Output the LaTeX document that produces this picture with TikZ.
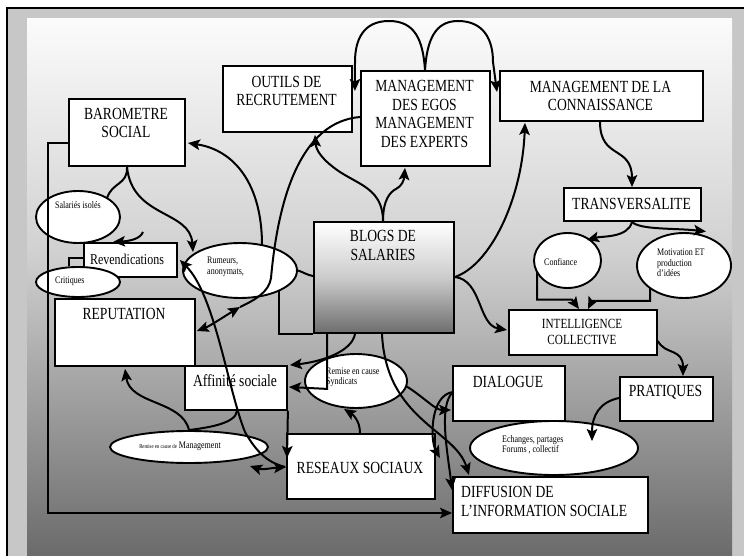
\documentclass[tikz,border=0pt]{standalone}
\usepackage{fontspec}
\setmainfont{Liberation Serif}
\newfontfamily\cond[FakeStretch=0.8]{Liberation Serif}
\usetikzlibrary{shapes.geometric,arrows.meta,calc}
\definecolor{bandgray}{gray}{0.78}
\definecolor{bgtop}{gray}{0.985}
\definecolor{bgmid}{gray}{0.82}
\definecolor{bgbot}{gray}{0.42}
\definecolor{blogbot}{gray}{0.43}
\definecolor{blogmid}{gray}{0.80}
\begin{document}
\begin{tikzpicture}[x=1pt,y=-1pt,
  box/.style={draw=black, line width=1.9pt, fill=white, rectangle, inner sep=0pt, anchor=north west},
  oval/.style={draw=black, line width=1.9pt, fill=white, ellipse, inner sep=0pt},
  big/.style={inner sep=0pt, align=center, font=\cond\fontsize{17}{18.5}\selectfont},
  midtxt/.style={inner sep=0pt, align=center, font=\cond\fontsize{14}{16}\selectfont},
  small/.style={inner sep=0pt, align=left, anchor=west, font=\cond\fontsize{10}{10.5}\selectfont},
  link/.style={line width=2pt, draw=black},
  arr/.style={link, -{Stealth[length=12pt,width=10.5pt,inset=2.5pt]}},
  rarr/.style={link, {Stealth[length=12pt,width=10.5pt,inset=2.5pt]}-},
  darr/.style={link, {Stealth[length=12pt,width=10.5pt,inset=2.5pt]}-{Stealth[length=12pt,width=10.5pt,inset=2.5pt]}}
]
\useasboundingbox (0,0) rectangle (744,556);
% background
\fill[white] (0,0) rectangle (744,556);
\fill[bandgray] (7,8) rectangle (744,556);
\shade[top color=bgtop, bottom color=bgmid] (27,19) rectangle (732,250.5);
\shade[top color=bgmid, bottom color=bgbot] (27,250) rectangle (732,556);
\draw[line width=2pt] (7,556) -- (7,8) -- (744,8);

% boxes
\node[box, minimum width=129, minimum height=66] (outils) at (222,65) {};
\node[box, minimum width=129, minimum height=95] (egos) at (360,70) {};
\node[box, minimum width=203, minimum height=50] (conn) at (499,70) {};
\node[box, minimum width=116, minimum height=67] (barom) at (68,98) {};
\node[box, minimum width=137, minimum height=33] (transv) at (563,187) {};
\node[draw=black, line width=1.9pt, rectangle, inner sep=0pt, anchor=north west,
      top color=white, bottom color=blogbot, middle color=blogmid,
      minimum width=140, minimum height=111] (blogs) at (313,221) {};
\node[box, minimum width=93, minimum height=34] (rev) at (83,242) {};
\node[box, minimum width=140, minimum height=67] (reput) at (54,298) {};
\node[box, minimum width=102, minimum height=44] (affin) at (184,365) {};
\node[box, minimum width=148, minimum height=65] (reseaux) at (286,433) {};
\node[box, minimum width=112, minimum height=55] (dialog) at (452,365) {};
\node[box, minimum width=148, minimum height=45] (intel) at (508,309) {};
\node[box, minimum width=93, minimum height=44] (prat) at (619,376) {};
\node[box, minimum width=195, minimum height=56] (diff) at (452,476) {};

% ellipses
\node[oval, minimum width=84, minimum height=52] (salaries) at (78,217) {};
\node[oval, minimum width=84, minimum height=30] (critiques) at (78,282) {};
\node[oval, minimum width=114, minimum height=55] (rumeurs) at (240,270.5) {};
\node[oval, minimum width=102, minimum height=54] (syndicats) at (356,381) {};
\node[oval, minimum width=158, minimum height=32] (mgmtell) at (189,447) {};
\node[oval, minimum width=67, minimum height=55] (confiance) at (567.5,260.5) {};
\node[oval, minimum width=94, minimum height=65] (motiv) at (684,265.5) {};
\node[oval, minimum width=168, minimum height=54] (echanges) at (554,448) {};

% texts
\node[big] (t-outils) at (286.5,91) {OUTILS DE\\RECRUTEMENT};
\node[big] (t-egos) at (424.5,114) {MANAGEMENT\\DES EGOS\\MANAGEMENT\\DES EXPERTS};
\node[big] (t-conn) at (600.5,96) {MANAGEMENT DE LA\\CONNAISSANCE};
\node[big] (t-barom) at (126,123) {BAROMETRE\\SOCIAL};
\node[big] (t-transv) at (631.5,204) {TRANSVERSALITE};
\node[big] (t-blogs) at (383,245.5) {BLOGS DE\\SALARIES};
\node[inner sep=0pt, font=\cond\fontsize{15}{17}\selectfont] (t-rev) at (127,259) {Revendications};
\node[big] (t-reput) at (124,314) {REPUTATION};
\node[big] (t-affin) at (235,381) {Affinité sociale};
\node[big] (t-reseaux) at (360,468) {RESEAUX SOCIAUX};
\node[big] (t-dialog) at (508,382) {DIALOGUE};
\node[midtxt] (t-intel) at (582,332) {INTELLIGENCE\\COLLECTIVE};
\node[big] (t-prat) at (665.5,392) {PRATIQUES};
\node[big, align=left, anchor=west] (t-diff) at (461,501.5) {DIFFUSION DE\\L’INFORMATION SOCIALE};

\node[small] (t-salaries) at (55,205) {Salariés isolés};
\node[small] (t-critiques) at (55,281) {Critiques};
\node[small] (t-rumeurs) at (207,267) {Rumeurs,\\anonymats,};
\node[small] (t-syndicats) at (326,377.5) {Remise en cause\\Syndicats};
\node[inner sep=0pt, font=\cond\fontsize{10}{10.5}\selectfont] (t-mgmt) at (180,446) {{\fontsize{6}{6}\selectfont Remise en cause de} Management};
\node[small] (t-confiance) at (544,262) {Confiance};
\node[small] (t-motiv) at (657,263) {Motivation ET\\production\\d’idées};
\node[small] (t-echanges) at (502,445) {Echanges, partages\\Forums , collectif};

% free ends
\coordinate (revsrc) at (143,232);
\coordinate (echtip) at (592,441);
\coordinate (mgtip) at (250,466);

% connectors
\draw[arr] ($(egos.north west)+(65,0)$) .. controls (423,40) and (415,21) .. (389,21) .. controls (363,21) and (355,40) .. (355,62) -- ($(outils.north east)+(2,26)$);
\draw[arr] ($(egos.north west)+(65,0)$) .. controls (427,40) and (435,21) .. (458,21) .. controls (484,21) and (493,40) .. (493,62) -- ($(conn.north west)+(-2,22)$);
\draw[arr] ($(blogs.north west)+(70,0)$) .. controls (383,200) and (390,192) .. (396,189) .. controls (402,186) and (404,180) .. ($(egos.south west)+(45,1)$);
\draw[arr] ($(blogs.north west)+(70,0)$) .. controls (383,190) and (360,185) .. (340,172) .. controls (322,160) and (316,150) .. ($(outils.south west)+(93,2)$);
\draw[arr] ($(blogs.north east)+(0,56)$) .. controls (490,265) and (522,200) .. ($(conn.south west)+(26,1)$);
\draw[arr] ($(blogs.north east)+(0,56)$) .. controls (482,280) and (478,325) .. ($(intel.north west)+(-1,21)$);
\draw[arr] ($(conn.south west)+(101,0)$) .. controls (600,160) and (632,145) .. ($(transv.north west)+(69,0)$);
\draw[arr] ($(transv.south west)+(69,0)$) .. controls (628,238) and (602,236) .. ($(confiance.center)+(19.5,-20.5)$);
\draw[arr] ($(transv.south west)+(69,0)$) .. controls (640,230) and (675,228) .. ($(motiv.center)+(22,-34)$);
\draw[arr] ($(confiance.center)+(-30.5,11.4)$) -- ++(0,27.6) -- ++(35,0) -- ($(intel.north west)+(71,0)$);
\draw[arr] ($(motiv.center)+(-34,22.4)$) -- ++(0,13) -- ++(-58,0) -- ($(intel.north west)+(80,0)$);
\draw[arr] ($(intel.north east)+(0,32)$) .. controls (665,355) and (683,348) .. ($(prat.north west)+(64,0)$);
\draw[arr] ($(prat.north west)+(0,22)$) .. controls (600,402) and (592,415) .. (echtip);
\draw[arr] ($(blogs.south west)+(69,0)$) .. controls (386,420) and (455,430) .. ($(diff.north west)+(17,-1)$);
\draw[arr] ($(syndicats.center)+(50,5)$) .. controls (425,398) and (435,410) .. ($(dialog.north west)+(-1,45)$);
\draw[arr] ($(dialog.north west)+(1,27)$) .. controls (430,395) and (430,440) .. ($(reseaux.north east)+(4,25)$);
\draw[arr] ($(dialog.north west)+(1,27)$) .. controls (438,405) and (448,455) .. ($(diff.north west)+(0,14)$);
\draw[arr] ($(reseaux.north west)+(74,0)$) .. controls (360,420) and (352,414) .. ($(syndicats.south)+(-12,0)$);
\draw[darr] (mgtip) .. controls (262,470) and (272,468) .. ($(reseaux.north west)+(0,34)$);
\draw[rarr] ($(rev.north east)+(2,18)$) .. controls (215,295) and (228,390) .. (245,432) .. controls (258,455) and (270,463) .. ($(reseaux.north west)+(-1,34)$);
\draw[link] ($(barom.south west)+(59,0)$) .. controls (128,185) and (112,182) .. ($(salaries.center)+(29,-18.8)$);
\draw[arr] ($(barom.south west)+(59,0)$) .. controls (132,218) and (190,210) .. ($(rumeurs.center)+(-47,-18.5)$);
\draw[arr] ($(rumeurs.center)+(22,-25.4)$) .. controls (262,185) and (235,150) .. ($(barom.north east)+(2,45)$);
\draw[link] ($(egos.north west)+(0,47)$) .. controls (300,122) and (278,200) .. (271,278) .. controls (269,292) and (255,300) .. (240,307);
\draw[darr] (240,307) .. controls (225,316) and (210,326) .. ($(reput.north east)+(1,33)$);
\draw[link] (rumeurs.east) .. controls (303,272) and (307,275) .. ($(blogs.north west)+(0,55)$);
\draw[link] ($(rumeurs.center)+(39,20.4)$) |- (blogs.south west);
\draw[arr] ($(blogs.south west)+(42,0)$) .. controls (352,352) and (320,362) .. ($(affin.north east)+(2,0)$);
\draw[arr] ($(blogs.south west)+(14,0)$) -- ++(0,55) -- ($(affin.north east)+(1,22)$);
\draw[arr] (affin.south east) -- ($(reseaux.north west)+(1,25)$);
\draw[link] ($(affin.south west)+(53,0)$) .. controls (236,424) and (205,428) .. (mgmtell.north);
\draw[arr] (mgmtell.north) .. controls (182,400) and (130,405) .. ($(reput.south west)+(71,2)$);
\draw[arr] (revsrc) .. controls (140,239) and (130,241) .. ($(rev.north west)+(30,0)$);
\draw[link] ($(rev.north west)+(0,16)$) -| ($(critiques.north)+(-9,0)$);
\draw[arr] ($(barom.north west)+(0,45)$) -- ++(-20,0) |- ($(diff.north west)+(0,37)$);
\end{tikzpicture}
\end{document}
